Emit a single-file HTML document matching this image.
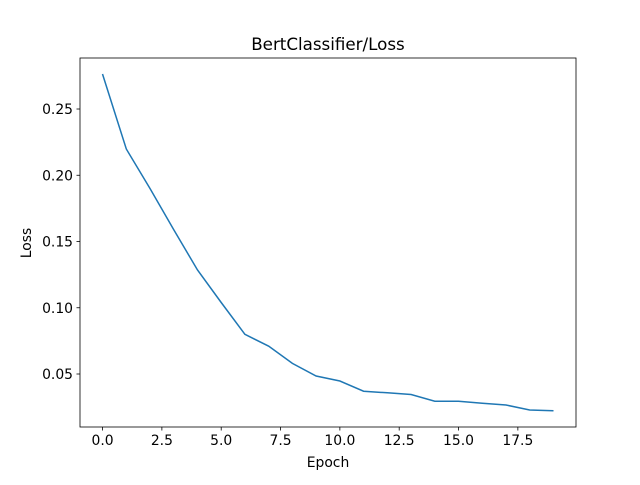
<!DOCTYPE html>
<html><head><meta charset="utf-8"><style>
body{margin:0;background:#fff;font-family:"Liberation Sans","DejaVu Sans",sans-serif;}
svg text{font-family:"DejaVu Sans","Liberation Sans",sans-serif;}
</style></head><body>
<svg id="chart" width="640" height="480">
<rect x="0" y="0" width="640" height="480" fill="#fff"/>
<text x="328" y="50" font-size="16.7" text-anchor="middle">BertClassifier/Loss</text>
<g id="ticks"></g>
<path id="line" fill="none" stroke="#1f77b4" stroke-width="1.5"/>
<rect x="80" y="58" width="496" height="369" fill="none" stroke="#000" stroke-width="0.8"/>
<text x="328" y="467" font-size="13.9" text-anchor="middle">Epoch</text>
<text x="31" y="243" font-size="13.9" text-anchor="middle" transform="rotate(-90 31 243)">Loss</text>
</svg>
<script>
const epochs=[0,1,2,3,4,5,6,7,8,9,10,11,12,13,14,15,16,17,18,19];
const loss=[0.2764,0.2198,0.19,0.159,0.1285,0.104,0.080,0.071,0.058,0.0485,0.0447,0.037,0.0358,0.0345,0.0295,0.0295,0.028,0.0266,0.0228,0.0222];
const xTicks=[0,2.5,5,7.5,10,12.5,15,17.5];
const xTickLabels=["0.0","2.5","5.0","7.5","10.0","12.5","15.0","17.5"];
const yTicks=[0.05,0.10,0.15,0.20,0.25];
const yTickLabels=["0.05","0.10","0.15","0.20","0.25"];
const L=80,R=576,T=58,B=427;
const xmin=-0.95,xmax=19.95,ymin=0.01,ymax=0.2885;
const xs=v=>L+(v-xmin)/(xmax-xmin)*(R-L);
const ys=v=>B-(v-ymin)/(ymax-ymin)*(B-T);
const NS="http://www.w3.org/2000/svg";
const g=document.getElementById('ticks');
function mk(t,a){const e=document.createElementNS(NS,t);for(const k in a)e.setAttribute(k,a[k]);return e;}
xTicks.forEach((v,i)=>{
 const l=mk('line',{x1:xs(v),x2:xs(v),y1:B,y2:B+3.5,stroke:'#000','stroke-width':0.8});
 
 
 g.appendChild(l);
 const t=mk('text',{x:xs(v),y:B+18,'font-size':13.9,'text-anchor':'middle'});
 
 
 t.textContent=xTickLabels[i];g.appendChild(t);
});
yTicks.forEach((v,i)=>{
 const l=mk('line',{x1:L-3.5,x2:L,y1:ys(v),y2:ys(v),stroke:'#000','stroke-width':0.8});
 
 
 g.appendChild(l);
 const t=mk('text',{x:L-7,y:ys(v)+5,'font-size':13.9,'text-anchor':'end'});
 
 
 t.textContent=yTickLabels[i];g.appendChild(t);
});
document.getElementById('line').setAttribute('d',epochs.map((e,i)=>(i?'L':'M')+xs(e).toFixed(1)+' '+ys(loss[i]).toFixed(1)).join(' '));
</script>
</body></html>
